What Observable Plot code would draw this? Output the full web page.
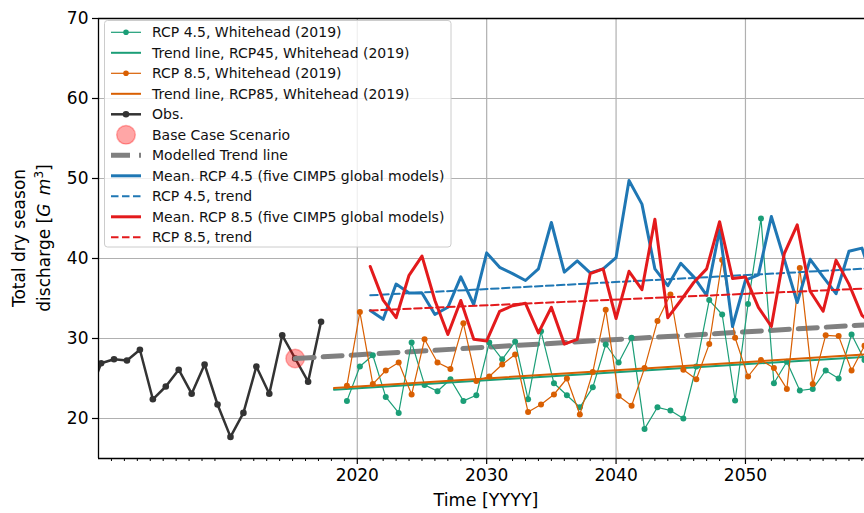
<!DOCTYPE html>
<html><head><meta charset="utf-8">
<script src="https://cdn.jsdelivr.net/npm/d3@7"></script>
<script src="https://cdn.jsdelivr.net/npm/@observablehq/plot@0.6"></script>
<style>
body{margin:0;background:#fff;}
#chart{width:864px;height:513px;overflow:hidden;}
svg{font-family:"DejaVu Sans",sans-serif;}
</style></head><body><div id="chart"></div>
<script>
// ---------- data ----------
const obsYears = d3.range(1999, 2018);
const obsValues = [22.5, 26.9, 27.4, 27.25, 28.6, 22.4, 24.0, 26.1, 23.1, 26.75, 21.75, 17.7, 20.7, 26.5, 23.1, 30.4, 27.5, 24.6, 32.1];

const whYears = d3.range(2019, 2060);
const rcp45Whitehead = [22.2, 26.5, 27.9, 22.7, 20.7, 29.5, 24.2, 23.4, 24.9, 22.2, 22.9, 29.5, 27.4, 29.6, 22.4, 30.9, 24.4, 22.9, 21.4, 23.9,
  29.25, 27.0, 30.1, 18.7, 21.4, 21.0, 20.0, 26.5, 34.8, 33.0, 22.25, 34.3, 45.0, 24.4, 27.1, 23.5, 23.7, 26.0, 25.0, 30.5, 27.3];
const rcp85Whitehead = [24.1, 33.3, 24.3, 26.0, 27.0, 23.0, 29.9, 27.0, 26.2, 31.9, 24.7, 25.25, 26.75, 28.0, 20.8, 21.75, 23.0, 25.0, 20.5, 25.8,
  33.6, 22.8, 21.6, 26.3, 32.2, 35.5, 26.1, 24.9, 29.3, 39.8, 30.1, 25.25, 27.3, 26.3, 23.7, 38.8, 24.3, 30.4, 30.3, 26.0, 29.1];

const trendWhYears = [2018, 2060];
const trend45Whitehead = [23.6, 27.8];
const trend85Whitehead = [23.8, 28.1];

const baseCaseYear = [2015];
const baseCaseValue = [27.5];

const modelledTrendYears = [2015, 2060];
const modelledTrendValues = [27.5, 31.8];

const meanYears = d3.range(2021, 2061);
const meanRcp45 = [33.5, 32.4, 36.8, 35.7, 35.7, 33.0, 33.9, 37.7, 34.25, 40.7, 38.9, 38.1, 37.25, 38.7, 44.5, 38.3, 39.7, 38.2, 38.7, 40.1,
  49.75, 46.8, 38.7, 36.6, 39.4, 37.7, 35.4, 43.6, 31.5, 37.3, 37.95, 45.25, 39.9, 34.5, 39.9, 37.7, 35.6, 40.9, 41.3, 36.5];
const meanRcp85 = [39.0, 34.8, 32.6, 37.9, 40.3, 34.75, 30.5, 34.75, 29.9, 29.7, 33.4, 34.1, 34.4, 30.7, 33.9, 29.3, 29.9, 38.1, 38.7, 32.5,
  38.4, 36.1, 44.9, 32.6, 34.75, 37.0, 38.7, 44.6, 37.5, 37.7, 33.9, 31.5, 40.6, 44.2, 35.9, 33.4, 39.8, 36.8, 32.9, 31.5];

const meanTrendYears = [2021, 2060];
const trendRcp45 = [35.4, 38.8];
const trendRcp85 = [33.5, 36.3];

const xMajorTicks = [2020, 2030, 2040, 2050];
const xMinorTicks = d3.range(2001, 2060).filter(y => y % 10 !== 0);
const yTicks = [20, 30, 40, 50, 60, 70];

const legendLabels = [
  "RCP 4.5, Whitehead (2019)",
  "Trend line, RCP45, Whitehead (2019)",
  "RCP 8.5, Whitehead (2019)",
  "Trend line, RCP85, Whitehead (2019)",
  "Obs.",
  "Base Case Scenario",
  "Modelled Trend line",
  "Mean. RCP 4.5 (five CIMP5 global models)",
  "RCP 4.5, trend",
  "Mean. RCP 8.5 (five CIMP5 global models)",
  "RCP 8.5, trend"
];

// ---------- build tables ----------
const zip = (xs, ys) => xs.map((x, i) => ({year: x, value: ys[i]}));
const obs = zip(obsYears, obsValues);
const wh45 = zip(whYears, rcp45Whitehead);
const wh85 = zip(whYears, rcp85Whitehead);
const tWh45 = zip(trendWhYears, trend45Whitehead);
const tWh85 = zip(trendWhYears, trend85Whitehead);
const base = zip(baseCaseYear, baseCaseValue);
const modTrend = zip(modelledTrendYears, modelledTrendValues);
const m45 = zip(meanYears, meanRcp45);
const m85 = zip(meanYears, meanRcp85);
const tm45 = zip(meanTrendYears, trendRcp45);
const tm85 = zip(meanTrendYears, trendRcp85);

const GREEN = "#1b9e77", ORANGE = "#d95f02", OBS = "#333333", BLUE = "#1f77b4", RED = "#e31a1c", GRAY = "#808080";
const SHIFT = 0.2; // observed / Whitehead series sit slightly after the year mark
const xs = d => d.year + SHIFT;

const chart = Plot.plot({
  width: 864, height: 513,
  marginLeft: 98, marginRight: 0, marginTop: 18, marginBottom: 55,
  style: {fontFamily: "DejaVu Sans", background: "white", color: "black", overflow: "hidden"},
  x: {domain: [2000, 2059.2], label: null},
  y: {domain: [15, 70], label: null},
  marks: [
    Plot.gridX(xMajorTicks, {stroke: "#b0b0b0", strokeOpacity: 1, strokeWidth: 1.2}),
    Plot.gridY(yTicks, {stroke: "#b0b0b0", strokeOpacity: 1, strokeWidth: 1.2}),
    Plot.line(obs, {x: xs, y: "value", stroke: OBS, strokeWidth: 2.5, clip: true}),
    Plot.dot(obs, {x: xs, y: "value", r: 3.3, fill: OBS, clip: true}),
    Plot.dot(base, {x: xs, y: "value", r: 9.3, fill: "red", fillOpacity: 0.35, stroke: "red", strokeOpacity: 0.3, strokeWidth: 1.5}),
    Plot.line(modTrend, {x: xs, y: "value", stroke: GRAY, strokeWidth: 5, strokeDasharray: "19,9", clip: true}),
    Plot.line(wh45, {x: xs, y: "value", stroke: GREEN, strokeWidth: 1.2, clip: true}),
    Plot.dot(wh45, {x: xs, y: "value", r: 3, fill: GREEN, clip: true}),
    Plot.line(tWh45, {x: xs, y: "value", stroke: GREEN, strokeWidth: 2, clip: true}),
    Plot.line(wh85, {x: xs, y: "value", stroke: ORANGE, strokeWidth: 1.2, clip: true}),
    Plot.dot(wh85, {x: xs, y: "value", r: 3, fill: ORANGE, clip: true}),
    Plot.line(tWh85, {x: xs, y: "value", stroke: ORANGE, strokeWidth: 2, clip: true}),
    Plot.line(m45, {x: "year", y: "value", stroke: BLUE, strokeWidth: 3, clip: true}),
    Plot.line(tm45, {x: "year", y: "value", stroke: BLUE, strokeWidth: 2, strokeDasharray: "7.5,3.5", clip: true}),
    Plot.line(m85, {x: "year", y: "value", stroke: RED, strokeWidth: 3, clip: true}),
    Plot.line(tm85, {x: "year", y: "value", stroke: RED, strokeWidth: 2, strokeDasharray: "7.5,3.5", clip: true}),
    Plot.axisX(xMajorTicks, {tickSize: 6, tickPadding: 4, fontSize: 17, tickFormat: d => String(d), stroke: "black", strokeWidth: 1.2, fill: "black"}),
    Plot.axisX(xMinorTicks, {tickSize: 3, text: null, stroke: "black", strokeWidth: 1}),
    Plot.axisY(yTicks, {tickSize: 6, tickPadding: 4, fontSize: 17, stroke: "black", strokeWidth: 1.2, fill: "black"}),
    Plot.ruleX([2000], {stroke: "black", strokeWidth: 1.3}),
    Plot.ruleY([15, 70], {stroke: "black", strokeWidth: 1.3})
  ]
});
document.getElementById("chart").appendChild(chart);

const svg = d3.select(chart);

// axis titles
svg.append("text").attr("x", 486).attr("y", 506).attr("text-anchor", "middle")
  .attr("font-size", 17.5).attr("fill", "black").text("Time [YYYY]");
svg.append("text").attr("transform", "translate(25,238) rotate(-90)").attr("text-anchor", "middle")
  .attr("font-size", 17).attr("fill", "black").text("Total dry season");
const yl2 = svg.append("text").attr("transform", "translate(49.5,238) rotate(-90)").attr("text-anchor", "middle")
  .attr("font-size", 17).attr("fill", "black");
yl2.append("tspan").text("discharge [");
yl2.append("tspan").attr("font-style", "italic").text("G");
yl2.append("tspan").text("\u2002");
yl2.append("tspan").attr("font-style", "italic").text("m");
yl2.append("tspan").attr("font-size", 12).attr("dy", -7).text("3");
yl2.append("tspan").attr("dy", 7).text("]");

// legend
const legendStyles = [
  {c: GREEN, w: 1.2, dot: 2.8},
  {c: GREEN, w: 2},
  {c: ORANGE, w: 1.2, dot: 2.8},
  {c: ORANGE, w: 2},
  {c: OBS, w: 2.5, dot: 3.3},
  {base: true},
  {c: GRAY, w: 5, dash: "19,9"},
  {c: BLUE, w: 3},
  {c: BLUE, w: 2, dash: "7.5,3.5"},
  {c: RED, w: 3},
  {c: RED, w: 2, dash: "7.5,3.5"}
];
const lg = svg.append("g").attr("text-anchor", "start");
lg.append("rect").attr("x", 104.5).attr("y", 20.5).attr("width", 346.5).attr("height", 226.5).attr("rx", 3)
  .attr("fill", "white").attr("fill-opacity", 0.8).attr("stroke", "#cccccc").attr("stroke-width", 1);
legendLabels.forEach((label, i) => {
  const y = 32.3 + i * 20.5;
  const s = legendStyles[i];
  if (s.base) {
    lg.append("circle").attr("cx", 126).attr("cy", y).attr("r", 9.3).attr("fill", "red").attr("fill-opacity", 0.35)
      .attr("stroke", "red").attr("stroke-opacity", 0.3).attr("stroke-width", 1.5);
  } else {
    lg.append("line").attr("x1", 111).attr("x2", 141).attr("y1", y).attr("y2", y)
      .attr("stroke", s.c).attr("stroke-width", s.w).attr("stroke-dasharray", s.dash || null);
    if (s.dot) lg.append("circle").attr("cx", 126).attr("cy", y).attr("r", s.dot).attr("fill", s.c);
  }
  lg.append("text").attr("x", 152).attr("y", y).attr("dy", "0.36em").attr("text-anchor", "start")
    .attr("font-size", 14).attr("fill", "#111").text(label);
});
</script>
</body></html>
